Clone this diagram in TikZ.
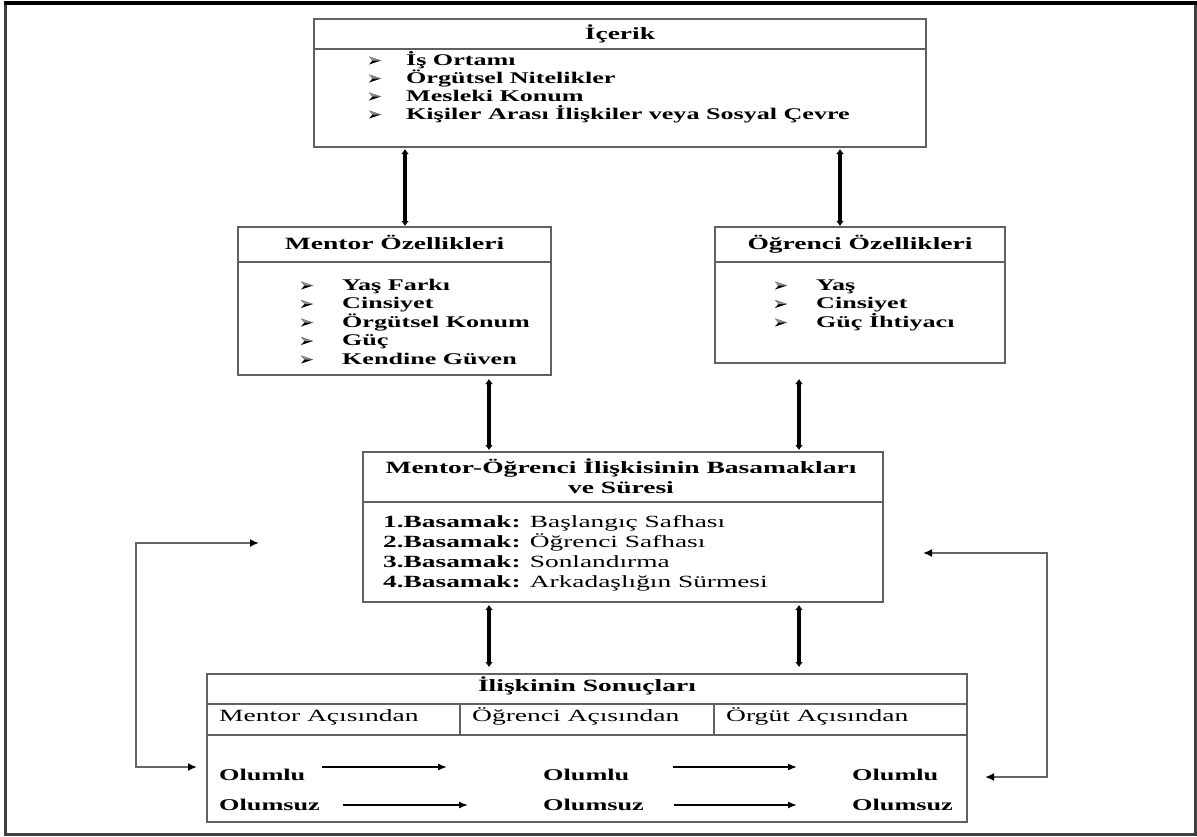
\documentclass[tikz,border=0pt]{standalone}
\usepackage{fontspec}
\setmainfont{Liberation Serif}[FakeStretch=1.6]
\usetikzlibrary{arrows.meta,calc}

\tikzset{
  box/.style={draw=black!62, line width=1.6pt, rectangle, inner sep=0pt, outer sep=0pt, anchor=north west},
  rule/.style={draw=black!62, line width=1.6pt},
  head/.style={font=\bfseries\fontsize{17.2}{20}\selectfont, inner sep=0pt, anchor=base},
  item/.style={font=\bfseries\fontsize{16.3}{18}\selectfont, inner sep=0pt, anchor=base west},
  stage/.style={font=\fontsize{17.1}{20}\selectfont, inner sep=0pt, anchor=base west},
  colhead/.style={font=\fontsize{17.2}{20}\selectfont, inner sep=0pt, anchor=base west},
  result/.style={font=\bfseries\fontsize{16.4}{20}\selectfont, inner sep=0pt, anchor=base west},
  dbl/.style={line width=3.2pt, black, {Latex[length=5pt,width=8pt]}-{Latex[length=5pt,width=8pt]}},
  loopline/.style={line width=1.8pt, black!60, {Latex[length=9pt,width=8pt,black]}-{Latex[length=9pt,width=8pt,black]}},
  flow/.style={line width=1.5pt, black, -{Latex[length=9pt,width=7pt]}},
  % list marker: a notched arrowhead pointing right, origin at its left tip on the baseline
  marker/.pic={
    \fill[black] (0,-0.5) -- (12,-4.5) -- (0,-8.5) -- (3.5,-4.5) -- cycle;
    \fill[black!45] (0,-8.5) -- (12,-4.5) -- (3.5,-4.5) -- cycle;
  },
}

\begin{document}
\begin{tikzpicture}[x=1pt, y=-1pt]
\useasboundingbox (0,0) rectangle (1197,836);

% page frame
\draw[line width=3pt, black!75] (5,3) rectangle (1195,834);
\draw[line width=3.5pt, black] (3.5,3) -- (1196.5,3);

% boxes
\node[box, minimum width=612pt, minimum height=128pt] (icerik) at (314,19) {};
\node[box, minimum width=313pt, minimum height=148pt] (mentor) at (238,227) {};
\node[box, minimum width=290pt, minimum height=136pt] (ogrenci) at (715,227) {};
\node[box, minimum width=520pt, minimum height=150pt] (basamak) at (363,452) {};
\node[box, minimum width=760pt, minimum height=148pt] (sonuc) at (207,674) {};

% header rules
\draw[rule] ($(icerik.north west)+(0,30)$) -- ($(icerik.north east)+(0,30)$);
\draw[rule] ($(mentor.north west)+(0,35)$) -- ($(mentor.north east)+(0,35)$);
\draw[rule] ($(ogrenci.north west)+(0,35)$) -- ($(ogrenci.north east)+(0,35)$);
\draw[rule] ($(basamak.north west)+(0,50)$) -- ($(basamak.north east)+(0,50)$);
\draw[rule] ($(sonuc.north west)+(0,30)$) -- ($(sonuc.north east)+(0,30)$);
\draw[rule] ($(sonuc.north west)+(0,61)$) -- ($(sonuc.north east)+(0,61)$);
\draw[rule] ($(sonuc.north west)+(253,30)$) -- ($(sonuc.north west)+(253,61)$);
\draw[rule] ($(sonuc.north west)+(507,30)$) -- ($(sonuc.north west)+(507,61)$);

% titles
\node[head] (icerik-t) at (620,39) {İçerik};
\node[head] (mentor-t) at (394.5,249) {Mentor Özellikleri};
\node[head] (ogrenci-t) at (860,249) {Öğrenci Özellikleri};
\node[head] (basamak-t1) at (621,473) {Mentor-Öğrenci İlişkisinin Basamakları};
\node[head] (basamak-t2) at (621,493) {ve Süresi};
\node[head] (sonuc-t) at (587,691) {İlişkinin Sonuçları};

% item lists
\foreach \t [count=\i] in {İş Ortamı, Örgütsel Nitelikler, Mesleki Konum, Kişiler Arası İlişkiler veya Sosyal Çevre}{
  \pic at (369,{65+18*(\i-1)}) {marker};
  \node[item] (icerik-\i) at (406,{65+18*(\i-1)}) {\t};
}
\foreach \t [count=\i] in {Yaş Farkı, Cinsiyet, Örgütsel Konum, Güç, Kendine Güven}{
  \pic at (301,{290+18.5*(\i-1)}) {marker};
  \node[item] (mentor-\i) at (342,{290+18.5*(\i-1)}) {\t};
}
\foreach \t [count=\i] in {Yaş, Cinsiyet, Güç İhtiyacı}{
  \pic at (775,{290+18.5*(\i-1)}) {marker};
  \node[item] (ogrenci-\i) at (816,{290+18.5*(\i-1)}) {\t};
}

% stages
\node[stage] (st-1) at (383,527) {\textbf{1.Basamak:} Başlangıç Safhası};
\node[stage] (st-2) at (383,547) {\textbf{2.Basamak:} Öğrenci Safhası};
\node[stage] (st-3) at (383,567) {\textbf{3.Basamak:} Sonlandırma};
\node[stage] (st-4) at (383,587) {\textbf{4.Basamak:} Arkadaşlığın Sürmesi};

% outcome columns
\node[colhead] (col-1) at (219,721) {Mentor Açısından};
\node[colhead] (col-2) at (472,721) {Öğrenci Açısından};
\node[colhead] (col-3) at (726,721) {Örgüt Açısından};

\node[result] (pos-1) at (219,780) {Olumlu};
\node[result] (pos-2) at (543,780) {Olumlu};
\node[result] (pos-3) at (852,780) {Olumlu};
\node[result] (neg-1) at (219,810) {Olumsuz};
\node[result] (neg-2) at (543,810) {Olumsuz};
\node[result] (neg-3) at (852,810) {Olumsuz};

% vertical two-way connectors
\coordinate (xa) at (405,0);
\coordinate (xb) at (840,0);
\coordinate (xc) at (489,0);
\coordinate (xd) at (799,0);
\draw[dbl] ($(icerik.south -| xa)+(0,2)$) -- ($(mentor.north -| xa)+(0,-1)$);
\draw[dbl] ($(icerik.south -| xb)+(0,2)$) -- ($(ogrenci.north -| xb)+(0,-1)$);
\draw[dbl] ($(mentor.south -| xc)+(0,4)$) -- ($(basamak.north -| xc)+(0,-2)$);
\draw[dbl] ($(ogrenci.south -| xd)+(0,16)$) -- ($(basamak.north -| xd)+(0,-2)$);
\draw[dbl] ($(basamak.south -| xc)+(0,3)$) -- ($(sonuc.north -| xc)+(0,-7)$);
\draw[dbl] ($(basamak.south -| xd)+(0,3)$) -- ($(sonuc.north -| xd)+(0,-7)$);

% feedback loops
\coordinate (lt) at (259,543);
\coordinate (lx) at (136,0);
\coordinate (lb) at ($(sonuc.west)+(-10,19)$);
\draw[loopline] (lt) -- (lt -| lx) |- (lb);
\coordinate (rt) at (923,553);
\coordinate (rx) at (1047,0);
\coordinate (rb) at ($(sonuc.east)+(18,29)$);
\draw[loopline] (rt) -- (rt -| rx) |- (rb);

% outcome flow arrows
\draw[flow] ($(pos-1.base east)+(17,-13)$) -- ($(pos-2.base west)+(-96,-13)$);
\draw[flow] ($(pos-2.base east)+(44,-13)$) -- ($(pos-3.base west)+(-55,-13)$);
\draw[flow] ($(neg-1.base east)+(23,-5)$) -- ($(neg-2.base west)+(-75,-5)$);
\draw[flow] ($(neg-2.base east)+(30,-5)$) -- ($(neg-3.base west)+(-55,-5)$);
\end{tikzpicture}
\end{document}
